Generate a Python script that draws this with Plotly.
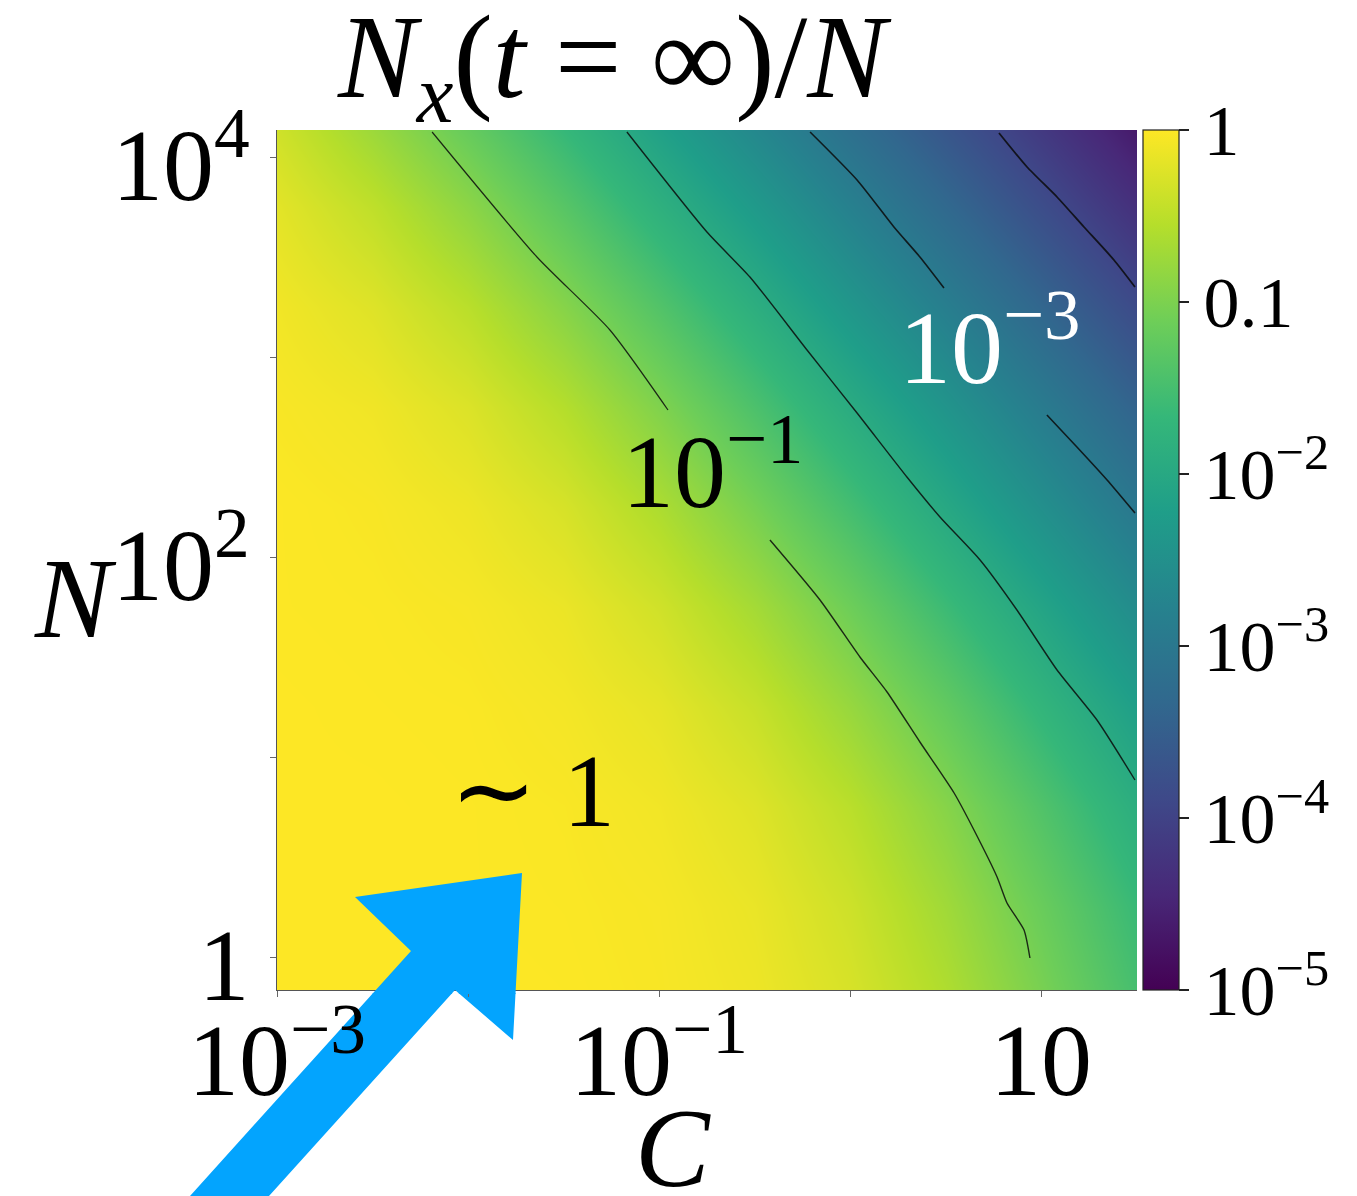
import plotly.graph_objects as go

# ---------------------------------------------------------------
# Grid of log10(N_x(t=inf)/N) on a log C / log N lattice
# ---------------------------------------------------------------
log_c_nodes = [-3.0, -2.5, -2.0, -1.5, -1.0, -0.5, 0.0, 0.5, 1.0, 1.5]
log_n_nodes = [-0.25, 0.25, 0.75, 1.25, 1.75, 2.25, 2.75, 3.25, 3.75, 4.25]

log_ratio = [
    [0.00, 0.00, 0.00, -0.01, -0.04, -0.11, -0.28, -0.58, -1.00, -1.47],
    [0.00, 0.00, -0.01, -0.02, -0.05, -0.15, -0.37, -0.72, -1.16, -1.63],
    [0.00, 0.00, -0.01, -0.03, -0.09, -0.24, -0.52, -0.92, -1.39, -1.88],
    [0.00, -0.01, -0.02, -0.07, -0.18, -0.42, -0.79, -1.23, -1.72, -2.21],
    [-0.01, -0.02, -0.05, -0.14, -0.35, -0.69, -1.12, -1.60, -2.09, -2.59],
    [-0.01, -0.04, -0.12, -0.30, -0.62, -1.05, -1.52, -2.01, -2.51, -3.01],
    [-0.04, -0.10, -0.26, -0.56, -0.97, -1.44, -1.93, -2.42, -2.92, -3.42],
    [-0.09, -0.24, -0.52, -0.92, -1.38, -1.87, -2.37, -2.86, -3.36, -3.86],
    [-0.20, -0.48, -0.87, -1.33, -1.82, -2.31, -2.81, -3.31, -3.81, -4.31],
    [-0.40, -0.83, -1.28, -1.76, -2.26, -2.76, -3.26, -3.75, -4.25, -4.75],
]

# Iso-lines (log10 C, log10 N); gaps leave room for the inline labels
iso_1e1_upper_c = [-2.188, -1.639, -1.257, -0.953]
iso_1e1_upper_n = [4.125, 3.500, 3.135, 2.735]
iso_1e1_lower_c = [-0.419, -0.157, 0.052, 0.194, 0.366, 0.545, 0.649, 0.770, 0.822, 0.911, 0.942]
iso_1e1_lower_n = [2.085, 1.785, 1.500, 1.325, 1.075, 0.820, 0.635, 0.400, 0.270, 0.135, -0.005]

iso_1e2_c = [-1.168, -0.749, -0.524, -0.225, 0.037, 0.298, 0.471, 0.681, 0.874, 1.084, 1.293, 1.492]
iso_1e2_n = [4.125, 3.625, 3.400, 3.035, 2.720, 2.400, 2.200, 1.985, 1.735, 1.435, 1.185, 0.885]

iso_1e3_upper_c = [-0.209, 0.037, 0.230, 0.366, 0.492]
iso_1e3_upper_n = [4.125, 3.885, 3.650, 3.500, 3.345]
iso_1e3_lower_c = [1.031, 1.188, 1.346, 1.492]
iso_1e3_lower_n = [2.710, 2.550, 2.385, 2.220]

iso_1e4_c = [0.780, 0.927, 1.084, 1.225, 1.382, 1.492]
iso_1e4_n = [4.120, 3.950, 3.800, 3.650, 3.485, 3.350]

# Axis ticks
x_tick_vals = [1e-3, 1e-1, 10]
x_tick_text = ["10<sup>−3</sup>", "10<sup>−1</sup>", "10"]
x_minor_vals = [1e-2, 1]
y_tick_vals = [1, 100, 10000]
y_tick_text = ["1", "10<sup>2</sup>", "10<sup>4</sup>"]
y_minor_vals = [10, 1000]
cb_tick_vals = [0, -1, -2, -3, -4, -5]
cb_tick_text = ["1", "0.1", "10<sup>−2</sup>", "10<sup>−3</sup>", "10<sup>−4</sup>", "10<sup>−5</sup>"]

SERIF = "Liberation Serif"
W, H = 1357, 1196
L, R, T, B = 277, 220, 130, 206
PW, PH = W - L - R, H - T - B


def pow10(vals):
    return [10 ** v for v in vals]


fig = go.Figure()

fig.add_trace(go.Heatmap(
    x=pow10(log_c_nodes),
    y=pow10(log_n_nodes),
    z=log_ratio,
    zmin=-5, zmax=0,
    zsmooth="best",
    colorscale="Viridis",
    showscale=True,
    colorbar=dict(
        x=(1143 - L) / PW, xanchor="left", xref="paper",
        y=0.5, yanchor="middle", yref="paper",
        len=1.0, lenmode="fraction",
        thickness=36, xpad=0, ypad=0,
        outlinewidth=1.2, outlinecolor="#222",
        tickvals=cb_tick_vals, ticktext=cb_tick_text,
        ticks="outside", ticklen=10, tickwidth=1.5, tickcolor="#222",
        tickfont=dict(family=SERIF, size=72, color="black"),
    ),
    hoverinfo="skip",
))

iso_lines = [
    (iso_1e1_upper_c, iso_1e1_upper_n, 1.2),
    (iso_1e1_lower_c, iso_1e1_lower_n, 1.4),
    (iso_1e2_c, iso_1e2_n, 1.4),
    (iso_1e3_upper_c, iso_1e3_upper_n, 1.6),
    (iso_1e3_lower_c, iso_1e3_lower_n, 1.6),
    (iso_1e4_c, iso_1e4_n, 1.8),
]
for cs, ns, lw in iso_lines:
    fig.add_trace(go.Scatter(
        x=pow10(cs), y=pow10(ns), mode="lines",
        line=dict(color="rgba(10,10,10,0.85)", width=lw, shape="spline", smoothing=0.6),
        showlegend=False, hoverinfo="skip",
    ))

# ---------------------------------------------------------------
# Blue arrow pointing into the ~1 region (paper coordinates).
# The part over the plot sits above the heatmap, the part below
# the axis stays underneath the tick labels.
# ---------------------------------------------------------------
arrow_px = [(522, 873), (355, 897), (411, 951), (190, 1196),
            (269, 1196), (455, 990), (513, 1040)]


def clip_poly(poly, y_cut, keep_above):
    out = []
    n = len(poly)
    for i in range(n):
        p, q = poly[i], poly[(i + 1) % n]
        p_in = (p[1] <= y_cut) if keep_above else (p[1] >= y_cut)
        q_in = (q[1] <= y_cut) if keep_above else (q[1] >= y_cut)
        if p_in:
            out.append(p)
        if p_in != q_in:
            t = (y_cut - p[1]) / (q[1] - p[1])
            out.append((p[0] + t * (q[0] - p[0]), y_cut))
    return out


def to_path(pts):
    segs = []
    for i, (px, py) in enumerate(pts):
        xp = (px - L) / PW
        yp = (H - B - py) / PH
        segs.append(("M" if i == 0 else "L") + f"{xp:.5f},{yp:.5f}")
    return " ".join(segs) + " Z"


ARROW_BLUE = "#03A4FE"
y_cut = 994
fig.add_shape(type="path", path=to_path(clip_poly(arrow_px, y_cut, True)),
              xref="paper", yref="paper", fillcolor=ARROW_BLUE,
              line=dict(width=0), layer="above")
fig.add_shape(type="path", path=to_path(clip_poly(arrow_px, y_cut - 1, False)),
              xref="paper", yref="paper", fillcolor=ARROW_BLUE,
              line=dict(width=0), layer="below")

# Inline labels
fig.add_annotation(x=-0.72, y=2.47, xref="x", yref="y",
                   text="10<sup>−1</sup>", showarrow=False,
                   xanchor="center", yanchor="middle",
                   font=dict(family=SERIF, size=104, color="black"))
fig.add_annotation(x=0.73, y=3.09, xref="x", yref="y",
                   text="10<sup>−3</sup>", showarrow=False,
                   xanchor="center", yanchor="middle",
                   font=dict(family=SERIF, size=104, color="white"))
fig.add_annotation(x=-1.66, y=0.835, xref="x", yref="y",
                   text="∼ 1", showarrow=False,
                   xanchor="center", yanchor="middle",
                   font=dict(family=SERIF, size=104, color="black"))

# Axis labels (horizontal N on the left, C under the tick labels)
fig.add_annotation(x=(75 - L) / PW, y=(H - B - 598) / PH, xref="paper", yref="paper",
                   text="<i>N</i>", showarrow=False,
                   xanchor="center", yanchor="middle",
                   font=dict(family=SERIF, size=114, color="black"))
fig.add_annotation(x=(673 - L) / PW, y=(H - B - 1148) / PH, xref="paper", yref="paper",
                   text="<i>C</i>", showarrow=False,
                   xanchor="center", yanchor="middle",
                   font=dict(family=SERIF, size=112, color="black"))

fig.update_layout(
    width=W, height=H,
    margin=dict(l=L, r=R, t=T, b=B, autoexpand=False),
    paper_bgcolor="white", plot_bgcolor="white",
    showlegend=False,
    title=dict(
        text="<i>N</i><sub><i>x</i></sub>(<i>t</i>&nbsp;=&nbsp;∞)/<i>N</i>",
        x=612 / W, xanchor="center", xref="container",
        y=1 - 56 / H, yanchor="middle", yref="container",
        font=dict(family=SERIF, size=118, color="black"),
    ),
    xaxis=dict(
        type="log", range=[-3, -3 + PW / 191.0],
        tickvals=x_tick_vals, ticktext=x_tick_text,
        ticks="outside", ticklen=6, tickwidth=1, tickcolor="#666",
        minor=dict(tickvals=x_minor_vals, ticks="outside", ticklen=6,
                   tickwidth=1, tickcolor="#666", showgrid=False),
        ticklabelstandoff=-24,
        tickfont=dict(family=SERIF, size=102, color="black"),
        showline=True, linecolor="#555", linewidth=1,
        showgrid=False, zeroline=False, automargin=False,
    ),
    yaxis=dict(
        type="log", range=[-(990 - 957) / 200.0, (957 - 130) / 200.0],
        tickvals=y_tick_vals, ticktext=y_tick_text,
        ticks="outside", ticklen=6, tickwidth=1, tickcolor="#666",
        minor=dict(tickvals=y_minor_vals, ticks="outside", ticklen=6,
                   tickwidth=1, tickcolor="#666", showgrid=False),
        ticklabelshift=7,
        tickfont=dict(family=SERIF, size=102, color="black"),
        showline=True, linecolor="#555", linewidth=1,
        showgrid=False, zeroline=False, automargin=False,
    ),
)

fig.write_html("out.html")
